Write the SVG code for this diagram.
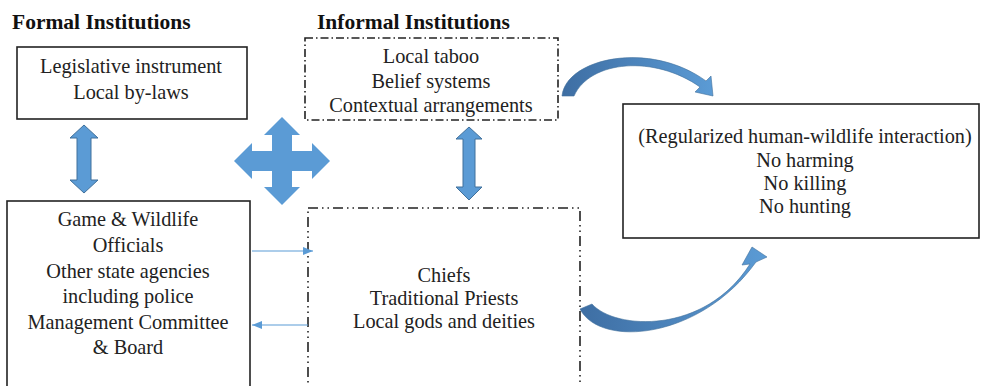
<svg xmlns="http://www.w3.org/2000/svg" width="981" height="386" viewBox="0 0 981 386">
<defs>
<style>
.t{font-family:"Liberation Serif","Times New Roman",serif;font-size:20.3px;fill:#222;text-anchor:middle}
.h{font-family:"Liberation Serif","Times New Roman",serif;font-size:21.5px;font-weight:bold;fill:#111}
.box{fill:#fff;stroke:#222;stroke-width:1.6}
.dd{fill:#fff;stroke:#222;stroke-width:1.6;stroke-dasharray:8 3 1.5 3}
.ddd{fill:#fff;stroke:#222;stroke-width:1.6;stroke-dasharray:10 4 1.5 4 1.5 4}
.blk{fill:#5B9BD5;stroke:#41719C;stroke-width:1}
.thin{stroke:#5B9BD5;stroke-width:1.2;fill:none}
</style>
<marker id="ah" markerWidth="10" markerHeight="8" refX="10" refY="4" orient="auto" markerUnits="userSpaceOnUse">
<path d="M0,0 L10,4 L0,8 Z" fill="#5B9BD5"/>
</marker>
<linearGradient id="g1" x1="0" y1="0" x2="1" y2="0">
<stop offset="0" stop-color="#3E6EA3"/>
<stop offset="1" stop-color="#5B9BD5"/>
</linearGradient>
</defs>
<rect width="981" height="386" fill="#fff"/>
<text class="h" x="12" y="29">Formal Institutions</text>
<text class="h" x="317" y="29">Informal Institutions</text>

<g id="legislative">
<rect class="box" x="17" y="47" width="230" height="72"/>
<text class="t" x="131" y="73">Legislative instrument</text>
<text class="t" x="131" y="99">Local by-laws</text>
</g>

<g id="officials">
<rect class="box" x="7" y="201" width="243" height="200"/>
<text class="t" x="128" y="226">Game &amp; Wildlife</text>
<text class="t" x="128" y="252">Officials</text>
<text class="t" x="128" y="277.5">Other state agencies</text>
<text class="t" x="128" y="303">including police</text>
<text class="t" x="128" y="328.5">Management Committee</text>
<text class="t" x="128" y="354">&amp; Board</text>
</g>

<g id="beliefs">
<rect class="dd" x="305" y="38" width="253" height="82"/>
<text class="t" x="431" y="63">Local taboo</text>
<text class="t" x="431" y="88">Belief systems</text>
<text class="t" x="431" y="112">Contextual arrangements</text>
</g>

<g id="chiefs">
<rect class="ddd" x="308" y="208" width="272" height="200"/>
<text class="t" x="444" y="282">Chiefs</text>
<text class="t" x="444" y="305">Traditional Priests</text>
<text class="t" x="444" y="328">Local gods and deities</text>
</g>

<g id="outcome">
<rect class="box" x="623" y="104" width="356" height="134"/>
<text class="t" x="805" y="143">(Regularized human-wildlife interaction)</text>
<text class="t" x="805" y="167">No harming</text>
<text class="t" x="805" y="190">No killing</text>
<text class="t" x="805" y="213">No hunting</text>
</g>

<g id="connectors">
<path class="blk" d="M84,125 L98,138 L91,138 L91,180 L98,180 L84,193 L70,180 L77,180 L77,138 L70,138 Z"/>
<path class="blk" d="M469,127 L482,139 L475,139 L475,187 L482,187 L469,200 L456,187 L463,187 L463,139 L456,139 Z"/>
<path d="M282,117 L300,135 L292,135 L292,151 L312,151 L312,143 L330,161 L312,179 L312,171 L292,171 L292,187 L300,187 L282,205 L264,187 L272,187 L272,171 L252,171 L252,179 L234,161 L252,143 L252,151 L272,151 L272,135 L264,135 Z" fill="#5B9BD5"/>
<line class="thin" x1="252" y1="251" x2="313" y2="251" marker-end="url(#ah)"/>
<line class="thin" x1="308" y1="325" x2="252" y2="325" marker-end="url(#ah)"/>
<path d="M562,96 C566,58 650,40 706,81 L711,76 L713,96 L695,92 L700,87 C655,55 590,60 574,96 Z" fill="url(#g1)" stroke="#41719C" stroke-width="0.6"/>
<path d="M580,309 C600,348 700,340 756,262 L767,257 L752,247 L742,265 L750,264 C705,335 615,330 592,304 Z" fill="url(#g1)" stroke="#41719C" stroke-width="0.6"/>
</g>
</svg>
